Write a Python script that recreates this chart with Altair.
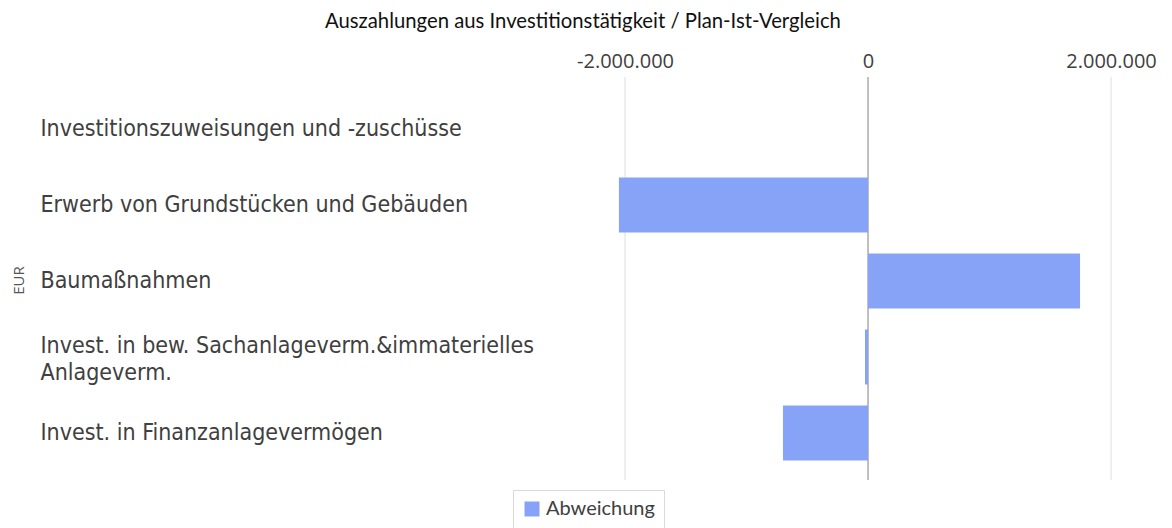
import altair as alt
import pandas as pd

categories = [
    "Investitionszuweisungen und -zuschüsse",
    "Erwerb von Grundstücken und Gebäuden",
    "Baumaßnahmen",
    "Invest. in bew. Sachanlageverm.&immaterielles|\u00a0\u00a0Anlageverm.",
    "Invest. in Finanzanlagevermögen",
]
abweichung = [0, -2050000, 1745000, -25000, -700000]
series_name = "Abweichung"
grid_values = [-2000000, 2000000]
zero_value = [0]

df = pd.DataFrame({"Kategorie": categories, "Wert": abweichung, "Serie": [series_name] * len(categories)})
grid_df = pd.DataFrame({"v": grid_values})
zero_df = pd.DataFrame({"v": zero_value})

xscale = alt.Scale(domain=[-2535000, 2403000], nice=False, zero=False)

grid = alt.Chart(grid_df).mark_rule(color="#dedede", strokeWidth=1).encode(
    x=alt.X("v:Q", scale=xscale), y=alt.value(-14), y2=alt.value(389)
)
zero = alt.Chart(zero_df).mark_rule(color="#808080", strokeWidth=1).encode(
    x=alt.X("v:Q", scale=xscale), y=alt.value(-14), y2=alt.value(389)
)

bars = alt.Chart(df).mark_bar(opacity=1).encode(
    x=alt.X(
        "Wert:Q",
        scale=xscale,
        axis=alt.Axis(
            orient="top",
            values=[-2000000, 0, 2000000],
            labelExpr="replace(replace(format(datum.value, ',d'), /,/g, '.'), /\u2212/g, '-')",
            grid=False,
            ticks=False,
            domain=False,
            labelFont="Open Sans",
            labelFontSize=20,
            labelColor="#404040",
            labelPadding=20,
            title=None,
        ),
    ),
    y=alt.Y(
        "Kategorie:N",
        sort=categories,
        scale=alt.Scale(paddingInner=0.276, paddingOuter=0.138),
        axis=alt.Axis(
            orient="left",
            title="EUR",
            titleFont="Open Sans",
            titleFontSize=15,
            titleFontWeight="normal",
            titleColor="#555555",
            titleX=-542,
            titleY=189,
            titleAngle=-90,
            titleBaseline="middle",
            titleAlign="center",
            domain=False,
            ticks=False,
            labelAlign="left",
            labelPadding=520,
            labelLimit=540,
            labelFont="DejaVu Sans Condensed",
            labelFontSize=23,
            labelColor="#404040",
            labelLineHeight=27,
            labelOffset={"condition": {"test": "indexof(datum.value, '|') >= 0", "value": -11}, "value": 0},
            labelExpr="split(datum.value, '|')",
        ),
    ),
    color=alt.Color(
        "Serie:N",
        scale=alt.Scale(domain=[series_name], range=["#87a3f8"]),
        legend=alt.Legend(
            orient="none",
            legendX=-47,
            legendY=399,
            title=None,
            symbolType="square",
            symbolSize=225,
            symbolStrokeWidth=0,
            labelFont="Lato",
            labelFontSize=20,
            labelColor="#404040",
            strokeColor="#d9d9d9",
            padding=9,
        ),
    ),
)

chart = (
    alt.layer(grid, zero, bars)
    .properties(
        width=600,
        height=380,
        autosize=alt.AutoSizeParams(type="none"),
        padding={"left": 552, "top": 83, "right": 4, "bottom": 57},
        title=alt.TitleParams(
            text="Auszahlungen aus Investitionstätigkeit / Plan-Ist-Vergleich",
            font="Lato",
            fontSize=20.3,
            fontWeight="normal",
            color="#111111",
            anchor="start",
            frame="group",
            dx=-235,
            dy=-15,
        ),
    )
    .configure_view(stroke=None)
)

chart.save("out.html", embed_options={"renderer": "svg", "actions": False})
